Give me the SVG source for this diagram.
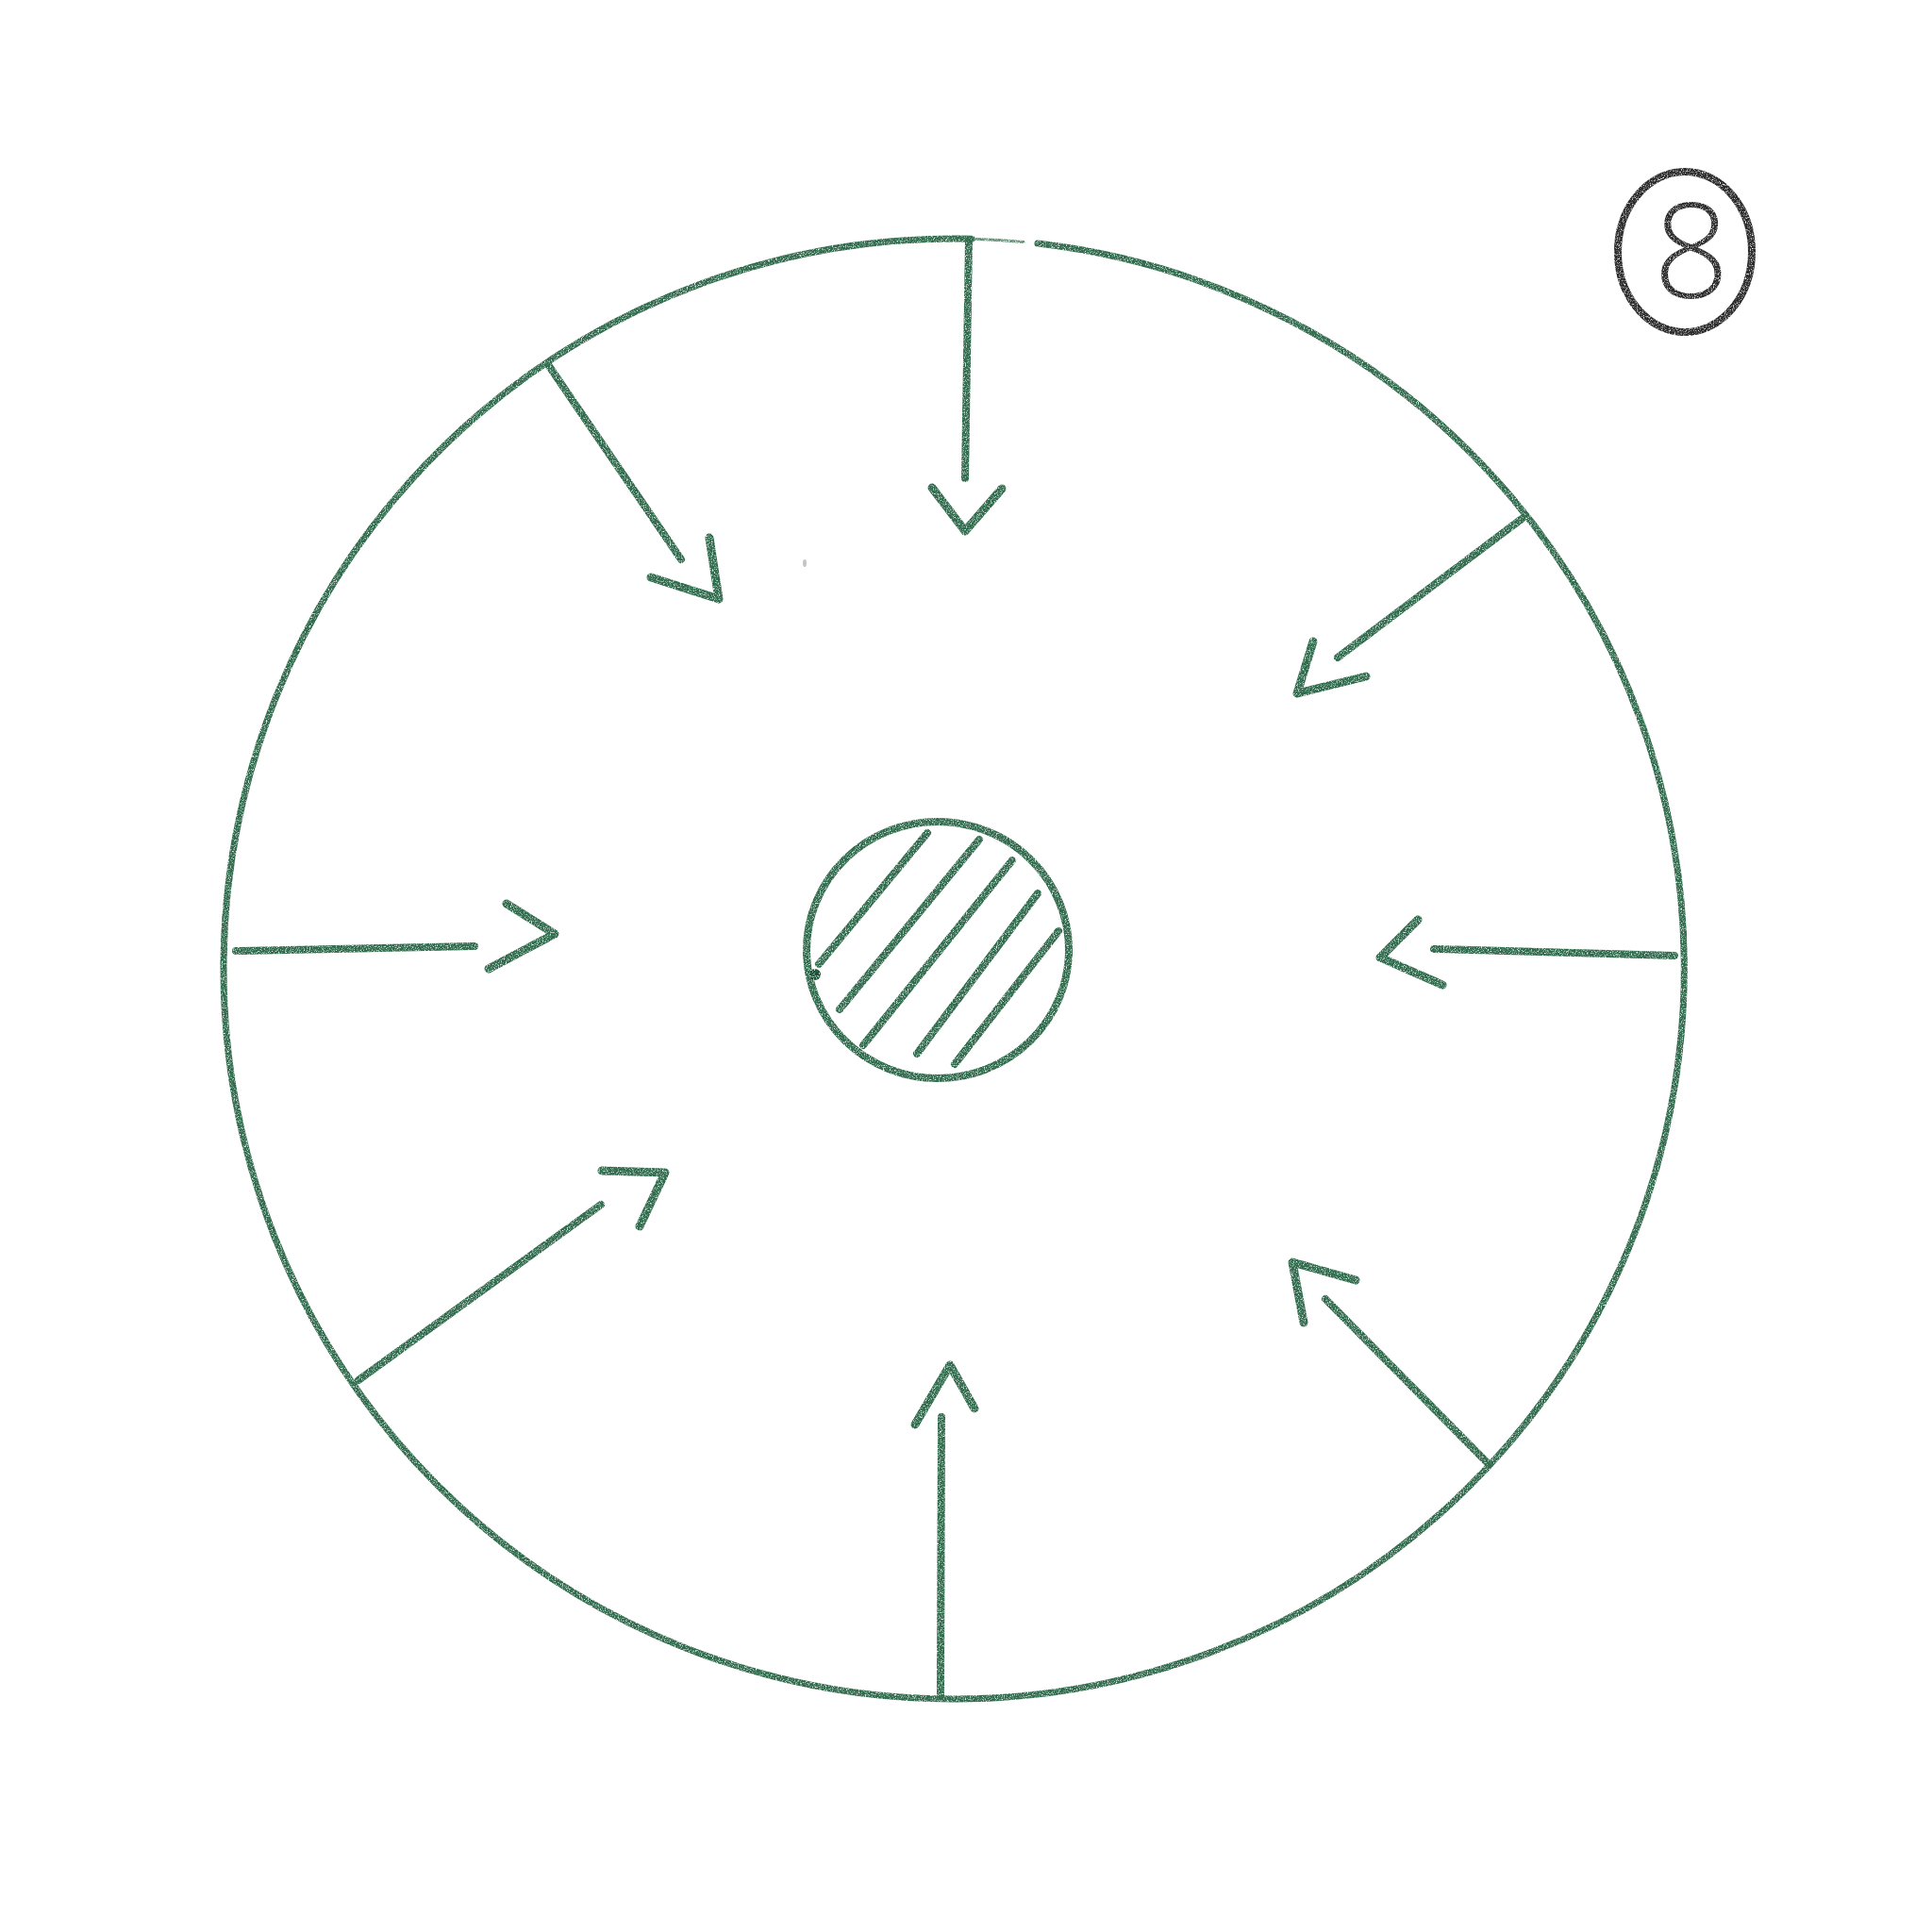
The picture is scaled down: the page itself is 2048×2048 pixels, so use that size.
<svg xmlns="http://www.w3.org/2000/svg" width="2048" height="2048" viewBox="0 0 2048 2048">
  <style>
    .pen { fill: none; stroke: #2f6a4b; stroke-linecap: round; stroke-linejoin: round; }
    .rim { stroke-width: 7; }
    .thin { stroke-width: 3; opacity: 0.75; }
    .shaft { stroke-width: 8; }
    .head { stroke-width: 9; }
    .hatch { stroke-width: 8; }
    .ink { fill: none; stroke: #2b2b2b; stroke-width: 8; }
    .digit { font-family: "Open Sans", "Liberation Sans", sans-serif; font-weight: 300; font-size: 140px; fill: #2b2b2b; }
  </style>
  <defs>
    <filter id="pencil" filterUnits="userSpaceOnUse" x="0" y="0" width="2048" height="2048">
      <feTurbulence type="fractalNoise" baseFrequency="0.85" numOctaves="2" seed="4" result="noise"/>
      <feColorMatrix in="noise" type="matrix" values="0 0 0 0 0  0 0 0 0 0  0 0 0 0 0  0 0 0 3 -0.55" result="mask"/>
      <feComposite in="SourceGraphic" in2="mask" operator="in"/>
    </filter>
  </defs>
  <rect width="2048" height="2048" fill="#ffffff"/>

  <g id="boundary" class="pen" filter="url(#pencil)">
    <path class="rim" d="M 1100 258.1 A 774 774 0 0 1 1011 1801 A 774 774 0 0 1 237 1027 A 774 774 0 0 1 1030 253.2"/>
    <path class="thin" d="M 1030 253.2 A 774 774 0 0 1 1085 256.5"/>
  </g>

  <g id="core" class="pen" filter="url(#pencil)">
    <ellipse class="rim" cx="994" cy="1007" rx="139" ry="136" style="stroke-width:8"/>
    <path class="hatch" d="M 868 1022 L 983 883"/>
    <path class="hatch" d="M 890 1070 L 1038 890"/>
    <path class="hatch" d="M 915 1108 L 1073 912"/>
    <path class="hatch" d="M 972 1117 L 1100 947"/>
    <path class="hatch" d="M 1012 1128 L 1122 987"/>
    <circle cx="864" cy="1033" r="6" fill="#1f5138" stroke="none"/>
  </g>

  <g id="connectors" class="pen" filter="url(#pencil)">
    <g id="arrow-top">
      <path class="shaft" d="M 1027 254 L 1023 507"/>
      <path class="head" d="M 988 517 L 1023 563 L 1062 518"/>
    </g>
    <g id="arrow-upper-left">
      <path class="shaft" d="M 582 388 L 722 593"/>
      <path class="head" d="M 752 570 L 762 635 L 690 612"/>
    </g>
    <g id="arrow-upper-right">
      <path class="shaft" d="M 1613 550 L 1418 697"/>
      <path class="head" d="M 1392 680 L 1375 735 L 1448 717"/>
    </g>
    <g id="arrow-left">
      <path class="shaft" d="M 250 1008 L 503 1003"/>
      <path class="head" d="M 537 958 L 588 990 L 518 1027"/>
    </g>
    <g id="arrow-right">
      <path class="shaft" d="M 1775 1013 L 1520 1006"/>
      <path class="head" d="M 1503 975 L 1463 1015 L 1529 1044"/>
    </g>
    <g id="arrow-lower-left">
      <path class="shaft" d="M 380 1463 L 637 1277"/>
      <path class="head" d="M 638 1241 L 705 1243 L 678 1300"/>
    </g>
    <g id="arrow-bottom">
      <path class="shaft" d="M 997 1798 L 998 1502"/>
      <path class="head" d="M 970 1510 L 1007 1447 L 1033 1493"/>
    </g>
    <g id="arrow-lower-right">
      <path class="shaft" d="M 1578 1552 L 1405 1377"/>
      <path class="head" d="M 1437 1357 L 1370 1338 L 1382 1402"/>
    </g>
  </g>

  <ellipse cx="853" cy="597" rx="2" ry="4" fill="#c4c4c4"/>

  <g id="label-8" filter="url(#pencil)">
    <ellipse class="ink" cx="1786" cy="267" rx="71" ry="85"/>
    <text class="digit" x="1793" y="316" text-anchor="middle">8</text>
  </g>
</svg>
